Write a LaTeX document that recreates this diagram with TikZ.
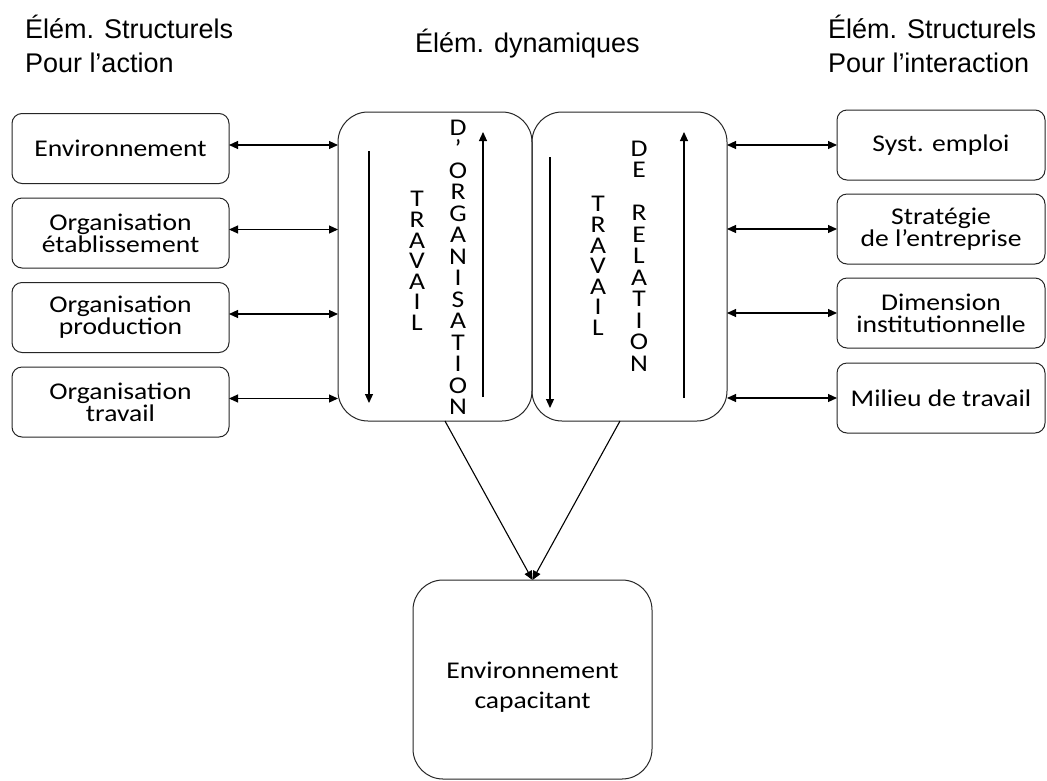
\documentclass[tikz,border=0pt]{standalone}
\usepackage{fontspec}
\setmainfont{Carlito}
\newfontfamily\boxfont[FakeStretch=1.15]{Carlito}
\newfontfamily\headfont{Liberation Sans}
\usetikzlibrary{arrows.meta,calc}
\begin{document}
\begin{tikzpicture}[x=1pt,y=-1pt,
  every node/.style={inner sep=0pt, outer sep=0pt},
  sbox/.style={draw=black!85, line width=1pt, rounded corners=10pt, minimum height=70pt,
    font=\boxfont\fontsize{24}{22}\selectfont, align=center},
  bigbox/.style={draw=black!85, line width=1pt, rounded corners=30pt},
  vtext/.style={font=\boxfont\fontsize{24}{21.5}\selectfont, align=center},
  vtextb/.style={font=\boxfont\fontsize{24}{20.6}\selectfont, align=center},
  head/.style={font=\headfont\fontsize{27}{34}\selectfont, anchor=base west},
  biconn/.style={line width=1.1pt, {Triangle[length=9pt,width=8pt]}-{Triangle[length=9pt,width=8pt]}},
  conn/.style={line width=1.1pt, -{Triangle[length=9pt,width=8pt]}}]
\useasboundingbox (0,0) rectangle (1047,780);
\fill[white] (0,0) rectangle (1047,780);

% headers
\node[head] (hl1) at (25,38) {Élém. Structurels};
\node[head] (hl2) at (25,72) {Pour l’action};
\node[head] (hm) at (415,52) {Élém. dynamiques};
\node[head] (hr1) at (828,38) {Élém. Structurels};
\node[head] (hr2) at (828,72) {Pour l’interaction};

% left boxes
\node[sbox, minimum width=217pt] (L1) at (120.5,148.5) {Environnement};
\node[sbox, minimum width=217pt] (L2) at (120.5,233) {Organisation\\établissement};
\node[sbox, minimum width=217pt] (L3) at (120.5,317.5) {Organisation\\production};
\node[sbox, minimum width=217pt] (L4) at (120.5,402) {Organisation\\travail};

% right boxes
\node[sbox, minimum width=208pt] (R1) at (941,145) {Syst. emploi};
\node[sbox, minimum width=208pt] (R2) at (941,229) {Stratégie\\de l’entreprise};
\node[sbox, minimum width=208pt] (R3) at (941,313) {Dimension\\institutionnelle};
\node[sbox, minimum width=208pt] (R4) at (941,398) {Milieu de travail};

% middle boxes
\node[bigbox, minimum width=194pt, minimum height=309pt] (M1) at (435,266.5) {};
\node[bigbox, minimum width=195pt, minimum height=309pt] (M2) at (629.5,266.5) {};

% vertical texts
\node[vtextb] (t1) at (417,261) {T\\R\\A\\V\\A\\I\\L};
\node[vtext] (t2) at (458,267.5) {D\\’\\O\\R\\G\\A\\N\\I\\S\\A\\T\\I\\O\\N};
\node[vtextb] (t3) at (598,266) {T\\R\\A\\V\\A\\I\\L};
\node[vtext] (t4) at (639,256) {D\\E\\\mbox{}\\R\\E\\L\\A\\T\\I\\O\\N};

% bottom box
\node[bigbox, minimum width=239pt, minimum height=199pt] (B) at (532.5,679.5) {};
\node[font=\boxfont\fontsize{24}{30}\selectfont, align=center] (Bt) at (532.5,687) {Environnement\\capacitant};

% arrows inside middle boxes
\coordinate (a1s) at (369,151); \coordinate (a1e) at (369,403);
\coordinate (a2s) at (483,397); \coordinate (a2e) at (483,132);
\coordinate (a3s) at (550,157); \coordinate (a3e) at (550,408);
\coordinate (a4s) at (684,398); \coordinate (a4e) at (684,132);
\draw[conn] (a1s) -- (a1e);
\draw[conn] (a2s) -- (a2e);
\draw[conn] (a3s) -- (a3e);
\draw[conn] (a4s) -- (a4e);

% left connectors
\foreach \n in {L1,L2,L3,L4}
  \draw[biconn] ([yshift=3.5pt]\n.east) -- ([yshift=3.5pt]\n.east -| M1.west);
% right connectors
\foreach \n in {R1,R2,R3,R4}
  \draw[biconn] (\n.west -| M2.east) -- (\n.west);

% converging connectors
\draw[conn] ([xshift=10pt]M1.south) -- (B.north);
\draw[conn] ([xshift=-9.5pt]M2.south) -- (B.north);
\end{tikzpicture}
\end{document}
